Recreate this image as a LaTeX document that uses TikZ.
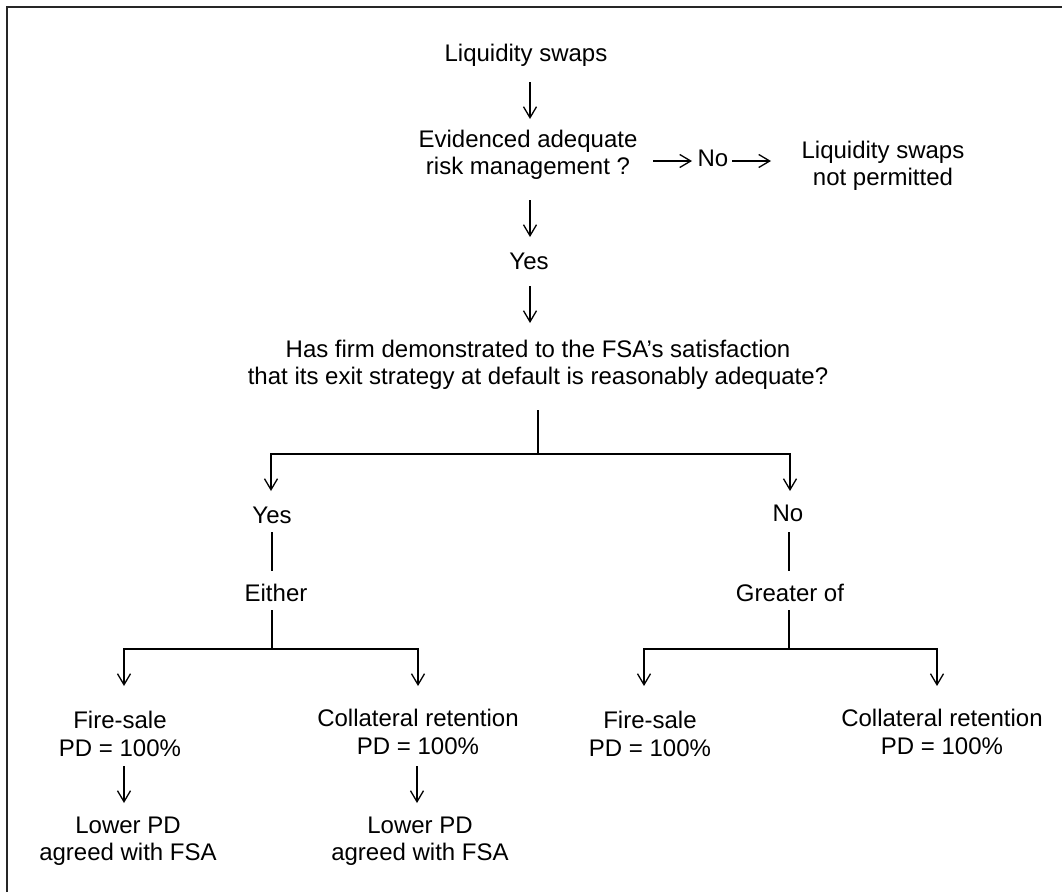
\documentclass[tikz,border=0pt]{standalone}
\usepackage{fontspec}
\setmainfont{Liberation Sans}
\usetikzlibrary{arrows.meta}
\begin{document}
\begin{tikzpicture}[x=1pt,y=-1pt,
  txt/.style={align=center,inner sep=0pt,font=\fontsize{24}{27.5}\selectfont},
  ln/.style={line width=1.3pt},
  arr/.style={ln,-{Straight Barb[length=11pt,width=13pt,line width=1.3pt]}},
  darr/.style={ln,{Straight Barb[length=11pt,width=13pt,line width=1.3pt]}-{Straight Barb[length=11pt,width=13pt,line width=1.3pt]}},
  frame/.style={line width=2pt,draw=black!85}]
\useasboundingbox (0,0) rectangle (1062,892);
\draw[frame] (7,892) -- (7,7) -- (1062,7);
% nodes
\node[txt] (ls) at (526,55) {Liquidity swaps};
\node[txt] (ev) at (528,155) {Evidenced adequate\\risk management ?};
\node[txt] (no1) at (713,158) {No};
\node[txt] (np) at (883,166) {Liquidity swaps\\not permitted};
\node[txt] (yes1) at (529,261) {Yes};
\node[txt] (has) at (538,365) {Has firm demonstrated to the FSA’s satisfaction\\that its exit strategy at default is reasonably adequate?};
\node[txt] (yes2) at (272,515) {Yes};
\node[txt] (no2) at (788,513) {No};
\node[txt] (either) at (276,593) {Either};
\node[txt] (greater) at (790,593) {Greater of};
\node[txt] (fs1) at (120,734) {Fire-sale\\PD = 100\%};
\node[txt] (cr1) at (418,732) {Collateral retention\\PD = 100\%};
\node[txt] (fs2) at (650,734) {Fire-sale\\PD = 100\%};
\node[txt] (cr2) at (942,732) {Collateral retention\\PD = 100\%};
\node[txt] (lp1) at (128,841) {Lower PD\\agreed with FSA};
\node[txt] (lp2) at (420,841) {Lower PD\\agreed with FSA};
% connector end points
\coordinate (a1s) at (530,82);  \coordinate (a1e) at (530,119);
\coordinate (a2s) at (530,200); \coordinate (a2e) at (530,237);
\coordinate (a3s) at (530,286); \coordinate (a3e) at (530,323);
\coordinate (s1s) at (653,161); \coordinate (s1e) at (692,161);
\coordinate (s2s) at (732,161); \coordinate (s2e) at (771,161);
\coordinate (h0) at (538,410);  \coordinate (h1) at (538,454);
\coordinate (hL) at (271,454);  \coordinate (hR) at (790,454);
\coordinate (hLe) at (271,491); \coordinate (hRe) at (790,491);
\coordinate (y1) at (272,532);  \coordinate (y2) at (272,571);
\coordinate (n1) at (789,532);  \coordinate (n2) at (789,571);
\coordinate (e1) at (272,610);  \coordinate (e2) at (272,649);
\coordinate (eL) at (124,649);  \coordinate (eR) at (418,649);
\coordinate (eLe) at (124,686); \coordinate (eRe) at (418,686);
\coordinate (g1) at (789,610);  \coordinate (g2) at (789,649);
\coordinate (gL) at (644,649);  \coordinate (gR) at (937,649);
\coordinate (gLe) at (644,686); \coordinate (gRe) at (937,686);
\coordinate (l1s) at (124,766); \coordinate (l1e) at (124,803);
\coordinate (l2s) at (417,766); \coordinate (l2e) at (417,803);
% connectors
\draw[arr] (a1s) -- (a1e);
\draw[arr] (a2s) -- (a2e);
\draw[arr] (a3s) -- (a3e);
\draw[arr] (s1s) -- (s1e);
\draw[arr] (s2s) -- (s2e);
\draw[ln] (h0) -- (h1);
\draw[darr] (hLe) -- (hL) -- (hR) -- (hRe);
\draw[ln] (y1) -- (y2);
\draw[ln] (n1) -- (n2);
\draw[ln] (e1) -- (e2);
\draw[darr] (eLe) -- (eL) -- (eR) -- (eRe);
\draw[ln] (g1) -- (g2);
\draw[darr] (gLe) -- (gL) -- (gR) -- (gRe);
\draw[arr] (l1s) -- (l1e);
\draw[arr] (l2s) -- (l2e);
\end{tikzpicture}
\end{document}
